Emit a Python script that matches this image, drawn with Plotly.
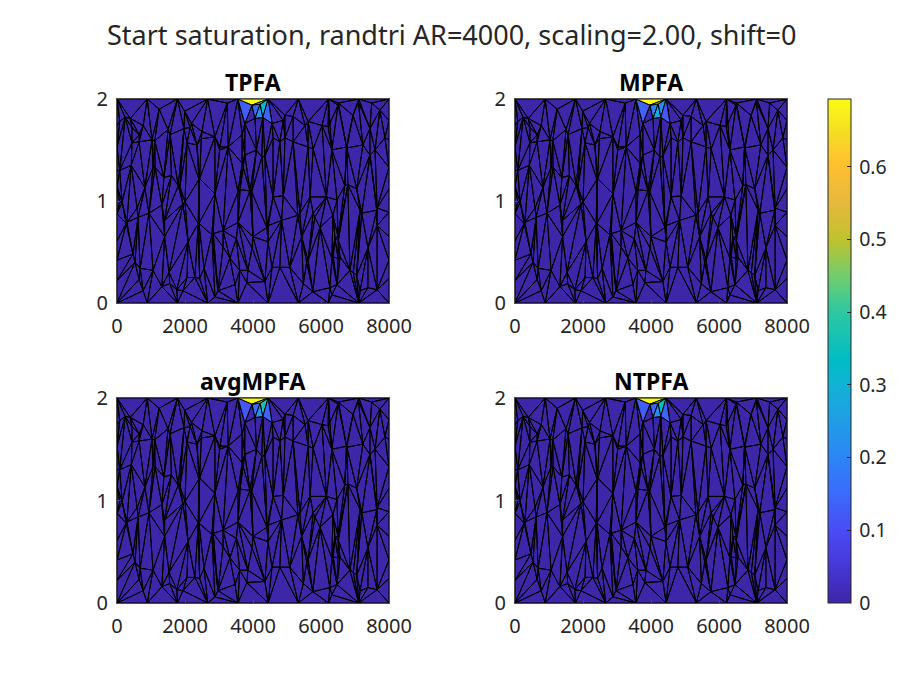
import plotly.graph_objects as go
import numpy as np

# Mesh vertices (x, y in axis units)
BX = [0, 889, 1778, 2667, 3556, 4444, 5333, 6222, 7111, 8000]
LY = [1.74, 1.53, 1.30, 1.14, 0.875, 0.61, 0.42, 0.22]
RY = [1.79, 1.60, 1.33, 1.12, 0.89, 0.65, 0.42, 0.24]
INNER = [
 (80,1.78),(390,1.81),(240,1.82),(440,1.72),(650,1.65),(440,1.57),(1030,1.60),(1240,1.90),(770,1.74),(1500,1.70),
 (650,1.58),(1110,1.59),(1990,1.88),(2190,1.76),(2480,1.61),(2880,1.63),(3270,1.53),(3020,1.50),(3710,1.33),(4350,1.44),
 (4100,1.50),(4890,1.79),(5180,1.83),(4790,1.58),(5620,1.78),(6210,1.73),(6510,1.96),(7100,1.97),(7490,1.96),(6750,1.53),
 (7440,1.45),(5770,1.51),(5180,1.58),(420,1.35),(1060,1.33),(1600,1.25),(2430,1.22),(1800,1.15),(80,1.30),(2880,1.07),
 (3560,1.09),(3960,1.09),(4590,1.04),(4890,1.05),(5380,0.88),(5770,0.88),(6160,1.04),(6700,1.15),(7050,1.12),(7640,0.91),
 (7200,0.88),(80,0.99),(620,0.84),(270,0.78),(1400,0.81),(1940,0.97),(2390,0.78),(2830,0.68),(3120,0.71),(3510,0.63),
 (4450,0.76),(4840,0.81),(5430,0.65),(5970,0.74),(6510,0.61),(6560,0.45),(1060,0.32),(470,0.48),(2090,0.60),(1400,0.65),
 (2290,0.25),(2430,0.24),(2970,0.12),(3610,0.32),(4790,0.35),(5080,0.35),(5580,0.40),(6360,0.45),(6950,0.30),(7050,0.27),
 (770,0.12),(1550,0.19),(1940,0.12),(3120,0.55),(4000,0.65),(5480,0.19),(6260,0.15),(7150,0.12),
 (680,0.34),(530,0.40),(650,0.23),(1530,0.30),(2060,0.25),(1760,0.13),(1320,0.16),(2560,0.34),
 (3850,0.32),(4350,0.21),(3820,0.20),(3470,0.18),(4560,0.35),(2880,0.06),(3320,0.44),(3970,0.54),(4440,0.60),
 (5620,0.42),(5760,0.11),(6320,0.08),(6470,0.18),(6320,0.44),(6500,0.44),(7380,0.15),(7650,0.13),(6850,0.32),(7380,0.54),(6410,0.64),
 (590,0.93),(290,0.79),(150,0.99),(1320,0.96),(2410,1.21),(1850,1.14),(2000,0.99),(2410,0.78),(940,0.88),(1380,1.23),(820,1.13),
 (3910,1.10),(3620,1.11),(5320,0.86),(3560,0.79),(4410,0.74),(2790,0.67),
 (5680,1.04),(6470,1.01),(6790,1.16),(7650,0.93),(7150,0.91),(5820,0.84),(6350,0.86),(7650,0.76),(6500,0.65),
 (1120,1.33),(1560,1.65),(2150,1.72),(2500,1.68),(2060,1.57),(2350,1.55),(1970,1.71),
 (3240,1.96),(3680,1.65),(4940,1.84),(3030,1.53),(3760,1.45),(4260,1.43),(4590,1.62),(3680,1.37),(4940,1.62),
 (6500,1.94),(5530,1.74),(6030,1.74),(6260,1.76),(7730,1.89),(6940,1.84),(7440,1.71),(7230,1.55),(6760,1.52),(6320,1.50),(5620,1.53),(7880,1.62),(7590,1.50),
]
# Inflow vertices and coloured cells at the top of each panel
HOTV = {"P":(3556,2),"Q":(4444,2),"A":(3970,1.94),"B":(4210,1.95),"C":(3760,1.76),"D":(4060,1.81),"E":(4290,1.82),"F":(4560,1.76)}
HOTT = ["PAC","ABD","BED","BQE","QEF","PQA","AQB"]
PANELS = ["TPFA","MPFA","avgMPFA","NTPFA"]
HOTVALS = {
 "TPFA":   [0.13,0.16,0.22,0.31,0.14,0.69,0.45],
 "MPFA":   [0.14,0.20,0.28,0.22,0.12,0.69,0.50],
 "avgMPFA":[0.12,0.16,0.22,0.37,0.14,0.69,0.48],
 "NTPFA":  [0.13,0.15,0.21,0.34,0.14,0.69,0.47],
}
CMAX = 0.6935
CBTICKS = [0,0.1,0.2,0.3,0.4,0.5,0.6]
XT = [0,2000,4000,6000,8000]
YT = [0,1,2]
COLORS = [(0,"#3e26a8"),(0.075,"#4638d8"),(0.145,"#4a4cf5"),(0.22,"#3b6cfb"),(0.29,"#2b86f5"),(0.37,"#1fa0e4"),(0.435,"#11b3d5"),
          (0.48,"#00bcc5"),(0.58,"#2fc8a0"),(0.65,"#73cd6c"),(0.72,"#bfc22f"),(0.80,"#e9b83c"),(0.87,"#fec02f"),(0.93,"#f6db25"),(1,"#f9fb15")]

OFF = 8              # page margin around the figure
W,H = 903-2*OFF,677-2*OFF
AX = [(117,389,99,303),(515,787,99,303),(117,389,398,603),(515,787,398,603)]
TXT = "#262626"
def fx(px): return (px-OFF)/W
def fy(py): return 1-(py-OFF)/H

def color_at(v):
    t = min(max(v/CMAX,0),1)
    for (a,ca),(b,cb) in zip(COLORS,COLORS[1:]):
        if t<=b:
            f=(t-a)/(b-a)
            c=[round(int(ca[i:i+2],16)*(1-f)+int(cb[i:i+2],16)*f) for i in (1,3,5)]
            return f"rgb({c[0]},{c[1]},{c[2]})"
    return COLORS[-1][1]

hot_pts = [v for k,v in HOTV.items()]
pts=[(x,2.0) for x in BX if not 3000<x<5000]+[(x,0.0) for x in BX]+[(0,y) for y in LY]+[(8000,y) for y in RY]+list(INNER)+hot_pts
pts=list(dict.fromkeys(pts))
P=np.array(pts,float)
KY=0.18
Q=np.c_[P[:,0]/8000,P[:,1]/2*KY]

def delaunay(Q):
    n=len(Q)
    S=np.vstack([Q,[[-50,-50],[60,-50],[0.5,80]]])
    tris=[(n,n+1,n+2)]
    def incirc(t,p):
        a,b,c=S[list(t)]
        m=np.array([[a[0]-p[0],a[1]-p[1],(a[0]-p[0])**2+(a[1]-p[1])**2],
                    [b[0]-p[0],b[1]-p[1],(b[0]-p[0])**2+(b[1]-p[1])**2],
                    [c[0]-p[0],c[1]-p[1],(c[0]-p[0])**2+(c[1]-p[1])**2]])
        o=(b[0]-a[0])*(c[1]-a[1])-(b[1]-a[1])*(c[0]-a[0])
        return np.linalg.det(m)*np.sign(o)>1e-14
    for i in range(n):
        bad=[t for t in tris if incirc(t,S[i])]
        edges={}
        for t in bad:
            for e in ((t[0],t[1]),(t[1],t[2]),(t[2],t[0])):
                k=tuple(sorted(e)); edges[k]=edges.get(k,0)+1
        tris=[t for t in tris if t not in bad]
        for (a,b),c in edges.items():
            if c==1: tris.append((a,b,i))
    return [t for t in tris if max(t)<n]

TRI=delaunay(Q)
def area(t):
    a,b,c=Q[list(t)]
    return abs((b[0]-a[0])*(c[1]-a[1])-(b[1]-a[1])*(c[0]-a[0]))
TRI=[t for t in TRI if area(t)>1e-6]

mx=[];my=[]
for t in TRI:
    for i in (*t,t[0]):
        mx.append(P[i,0]);my.append(P[i,1])
    mx.append(None);my.append(None)

fig=go.Figure()
layout={}
for k,name in enumerate(PANELS):
    s="" if k==0 else str(k+1)
    xa,ya=f"x{s}",f"y{s}"
    fig.add_trace(go.Scatter(x=mx,y=my,mode="lines",fill="toself",fillcolor=color_at(0),
                             line=dict(color="black",width=1),xaxis=xa,yaxis=ya,hoverinfo="skip",showlegend=False))
    for tr,v in zip(HOTT,HOTVALS[name]):
        vx=[HOTV[c][0] for c in tr+tr[0]];vy=[HOTV[c][1] for c in tr+tr[0]]
        fig.add_trace(go.Scatter(x=vx,y=vy,mode="lines",fill="toself",fillcolor=color_at(v),
                                 line=dict(color="black",width=1),xaxis=xa,yaxis=ya,hoverinfo="skip",showlegend=False))
    l,r,t,b=AX[k]
    common=dict(showgrid=False,zeroline=False,showline=True,mirror=True,linecolor="#4d4d4d",linewidth=1,automargin=False,
                ticks="inside",ticklen=3,tickcolor="#4d4d4d",tickfont=dict(size=20,color=TXT,family="Noto Sans"))
    layout[f"xaxis{s}"]=dict(domain=[fx(l),fx(r)],range=[0,8000],tickvals=XT,anchor=ya,ticklabelstandoff=5,**common)
    layout[f"yaxis{s}"]=dict(domain=[fy(b),fy(t)],range=[0,2],tickvals=YT,anchor=xa,ticklabelstandoff=4,**common)

fig.add_trace(go.Scatter(x=[0,0],y=[0,0],mode="markers",showlegend=False,hoverinfo="skip",
    marker=dict(size=1,opacity=0,color=[0,CMAX],cmin=0,cmax=CMAX,
        colorscale=[[a,c] for a,c in COLORS],showscale=True,
        colorbar=dict(x=fx(828),xanchor="left",xpad=0,ypad=0,y=fy(603),yanchor="bottom",len=504/H,lenmode="fraction",
            thickness=23,thicknessmode="pixels",tickvals=CBTICKS,ticktext=["\u20090","\u20090.1","\u20090.2","\u20090.3","\u20090.4","\u20090.5","\u20090.6"],
            ticks="inside",ticklen=4,tickcolor="#262626",outlinecolor="#262626",outlinewidth=1,
            tickfont=dict(size=19.5,color=TXT,family="Noto Sans")))))

ann=[dict(text="Start saturation, randtri AR=4000, scaling=2.00, shift=0",x=fx(451.5),y=fy(35),xref="paper",yref="paper",
          showarrow=False,xanchor="center",yanchor="middle",font=dict(size=27,color=TXT,family="Noto Sans"))]
for k,name in enumerate(PANELS):
    l,r,t,b=AX[k]
    ann.append(dict(text=f"<b>{name}</b>",x=fx((l+r)/2),y=fy(t-17),xref="paper",yref="paper",showarrow=False,
                    xanchor="center",yanchor="middle",font=dict(size=23,color="#000000",family="Noto Sans")))
fig.update_layout(width=W,height=H,margin=dict(l=0,r=0,t=0,b=0),paper_bgcolor="white",plot_bgcolor=color_at(0),
                  showlegend=False,annotations=ann,**layout)
fig.write_html("out.html")
